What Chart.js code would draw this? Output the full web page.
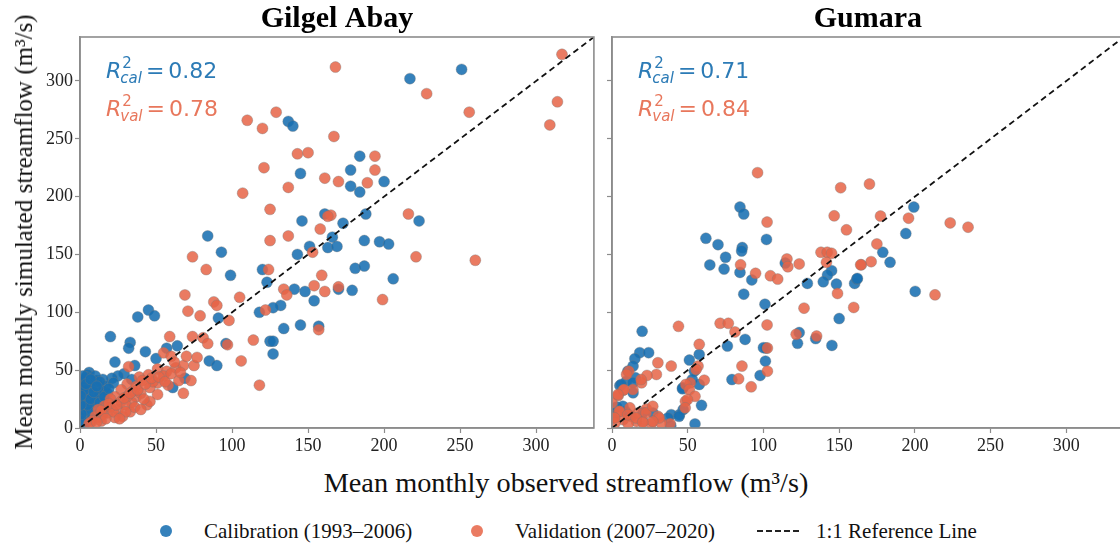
<!DOCTYPE html>
<html>
<head>
<meta charset="utf-8">
<script src="https://cdn.jsdelivr.net/npm/chart.js@4.4.1/dist/chart.umd.min.js"></script>
<style>
  html, body { margin: 0; padding: 0; background: #fff; }
  #fig {
    position: relative; width: 1120px; height: 548px; overflow: hidden;
    font-family: "Liberation Serif", "Times New Roman", serif; color: #111;
  }
  canvas { position: absolute; top: 0; }
  #gilgel { left: 0; }
  #gumara { left: 600px; }
  #xlabel { position: absolute; left: 0; width: 1132px; top: 466px; text-align: center; font-size: 28.3px; line-height: 34px; }
  #ylabel {
    position: absolute; left: 24px; top: 232px; font-size: 25px; line-height: 30px; white-space: nowrap;
    transform: translate(-50%, -50%) rotate(-90deg);
  }
  .leg { position: absolute; top: 519px; font-size: 21px; line-height: 24px; white-space: nowrap; }
  .dot { position: absolute; top: 525px; width: 12px; height: 12px; border-radius: 50%; }
  .dash { position: absolute; top: 530px; width: 42px; border-top: 2px dashed #222; }
</style>
</head>
<body>
<div id="fig">
  <canvas id="gilgel" width="600" height="460"></canvas>
  <canvas id="gumara" width="530" height="460"></canvas>
  <div id="ylabel">Mean monthly simulated streamflow (m³/s)</div>
  <div id="xlabel">Mean monthly observed streamflow (m³/s)</div>
  <div id="legend"></div>
</div>
<script>
const SERIF = '"Liberation Serif", "Times New Roman", serif';
const CAL_COLOR = 'rgba(25,112,178,0.88)';
const VAL_COLOR = 'rgba(230,100,70,0.85)';
const CAL_TEXT = '#2c7bb6';
const VAL_TEXT = '#e8775c';

const TICKS = [0, 50, 100, 150, 200, 250, 300];
const AXIS_MAX = 338;
const LEGEND_LABELS = ['Calibration (1993–2006)', 'Validation (2007–2020)', '1:1 Reference Line'];

// [observed, simulated] monthly means, m³/s
const gilgelCal = [
  [251,310],[217,302],[184,235],[178,223],[178,209],[200,213],[184,204],[173,177],[188,185],[223,179],
  [137,265],[140,261],[145,220],[161,185],[146,179],[84,166],[166,165],[93,152],[151,157],[143,150],
  [163,156],[169,157],[187,162],[197,161],[206,129],[181,138],[187,140],[99,132],[120,137],[123,126],
  [141,120],[148,118],[179,119],[170,120],[154,110],[132,106],[127,104],[118,100],[91,95],[145,89],
  [157,88],[134,86],[203,159],[38,96],[45,102],[49,97],[20,79],[33,74],[32,69],[43,66],
  [50,60],[57,69],[64,71],[23,57],[36,54],[85,58],[90,54],[125,75],[127,75],[127,64],[96,73],
  [6,48],[5,46],[29,47],[34,42],[25,45],[21,43],[15,42],[11,41],[7,35],[3,30],[2,25],[4,19],
  [1,16],[5,12],[9,27],[12,33],[17,36],[22,39],[14,25],[9,22],[0.5,36],[1,30],[1,9],[3.5,4],
  [69,43],[61,35],[2,40],[4,44],[8,38],[6,30],[3,22],[10,18],[6,14],[2,6],[8,8],[12,28],
  [15,32],[18,30],[5,20],[1,12],[10,45],[3,33],[7,25],[13,40],[0.5,20],[2,45],[4,38],[7,42],
  [9,31],[11,36],[13,22],[16,27],[19,34],[0.5,28]
];
const gilgelVal = [
  [317,323],[228,289],[256,273],[314,282],[309,262],[168,312],[167,252],[194,235],[194,223],[170,213],
  [189,212],[165,184],[216,185],[129,273],[110,266],[120,259],[143,237],[150,238],[121,225],[161,216],
  [107,203],[137,208],[125,189],[163,183],[158,172],[125,162],[137,166],[153,152],[83,137],[124,137],
  [159,132],[105,113],[134,120],[136,115],[154,123],[161,118],[170,122],[199,111],[88,109],[90,106],
  [122,102],[98,93],[74,148],[69,115],[71,101],[79,97],[59,79],[74,79],[81,78],[84,73],
  [55,65],[60,62],[32,53],[97,72],[106,58],[118,37],[114,76],[157,85],[260,145],[221,148],
  [63,52],[68,54],[75,54],[51,51],[57,49],[39,44],[45,46],[65,41],[73,41],[58,37],
  [68,30],[51,39],[46,35],[37,27],[44,20],[46,23],[51,29],[31,38],[27,33],[23,27],
  [20,25],[16,19],[12,16],[10,10],[13,9],[18,13],[25,16],[33,14],[28,10],[23,9],
  [34,22],[27,23],[31,27],[35,32],[37,36],[41,41],[8,6],[15,12],[20,18],[30,20],
  [40,30],[48,40],[55,45],[42,25],[36,18],[22,14],[14,6],[6,4],[14,15],[19,21],
  [24,20],[29,26],[33,30],[38,33],[43,38],[47,43],[52,44],[56,40],[60,47],[66,48],
  [62,57],[70,62],[77,61],[30,14],[40,16],[26,8],[17,8],[11,5]
];
const gumaraCal = [
  [84.5,191],[87,185],[62,164],[70,158.5],[102,163],[75,147.6],[86,156],[85.6,153],[64.6,141],[74,137.4],
  [84.5,134.5],[92.3,128],[87,115.7],[101,107],[114.4,142.6],[129,125],[150,94.6],[145,136],[142.3,132.2],[139.5,126.4],
  [148.2,124.4],[160.2,125],[161.7,128.7],[101.3,57.8],[101.7,69.1],[76.2,70.8],[87.9,76.6],[123.6,82.5],[122.5,73.2],[134.5,77.3],
  [145.2,71.4],[19.9,83.6],[18.3,65.1],[24.2,65.1],[15.1,59.9],[13.9,53.5],[15.5,43.4],[5.2,36.7],[9.6,40.5],[13.9,30.4],
  [57.6,63.6],[51.1,58.7],[54.4,49.1],[57.6,37.6],[46.7,34.7],[59.1,19.6],[47,15.9],[44.5,11.5],[54.8,3.5],[39.1,11.5],
  [36.9,8.7],[3.1,18.2],[9,14.2],[20.5,13.5],[27,13],[0,13],[10.5,49.1],[13.8,39.1],[6.1,37.6],[53,41.9],
  [46.5,33.9],[44.3,10.1],[38.8,2],[7.2,18.8],[0.7,10.1],[79.2,41.9],[97.8,45.4],[100,69.4],[199.3,191],[194,168.1],
  [178.8,151.9],[183.6,143.2],[162,129.3],[200.2,118.1]
];
const gumaraVal = [
  [96.1,220.7],[151,207.7],[102.4,178],[146.7,183.4],[154.8,171.3],[84.9,141.1],[94.8,133.7],[104.6,131.6],[109.4,128.7],[115.5,146.1],
  [116.1,139.4],[123.6,141.8],[126.8,103.6],[138,151.9],[142.1,151.9],[145,151],[141.6,143.2],[148.9,116.3],[164.6,141.1],[159.6,104.2],
  [71.4,90.5],[76.8,90.5],[81.2,83],[102.4,89.1],[102.6,69.1],[121.6,81],[135.1,79.5],[43.9,87.9],[30.3,56.4],[39.1,53.5],
  [11.1,49.1],[9.6,46.3],[29.3,46.3],[23.1,45.4],[19.5,39.1],[7.4,32.6],[4.1,28],[57.6,72.3],[56.8,53.5],[55.5,50.6],
  [51.7,39.1],[60.9,41.3],[48.7,37.6],[51.1,33.2],[54.8,27.4],[48.5,23.1],[38.4,3.7],[4.6,14.2],[1.5,8.9],[7.4,7.2],
  [12.9,10.1],[16.2,5.7],[22.7,16.5],[20.5,5.7],[26,3.7],[30.3,10.1],[32.5,4.3],[2,4.3],[10.7,3.7],[17.2,13],
  [11.8,17.4],[0,21.7],[19.2,41.9],[13.8,33.2],[7.9,33.2],[3.9,28.9],[49.8,24.6],[48.3,17.4],[31.2,8.7],[26.9,5.7],
  [22.5,13],[5,14.4],[10.5,11.5],[15.9,8.7],[20.3,4.9],[1.7,8.7],[26.9,18.8],[83.6,42.5],[91.9,35.6],[85.8,53.5],
  [102.6,49.1],[170,210.9],[177.3,183.2],[195.8,181.4],[223.3,177.3],[235.1,173.6],[174.9,159.1],[171.1,143.8],[164.2,141.1],[213.3,115.1]
];

const gilgelR2 = { cal: '0.82', val: '0.78' };
const gumaraR2 = { cal: '0.71', val: '0.84' };

const toXY = rows => rows.map(([x, y]) => ({ x, y }));

// closes the box: Chart.js only draws the left and bottom borders
const framePlugin = {
  id: 'frame',
  afterDatasetsDraw(chart) {
    const { ctx, chartArea: a } = chart;
    ctx.save();
    ctx.strokeStyle = '#8c8c8c';
    ctx.lineWidth = 1.6;
    ctx.strokeRect(a.left, a.top, a.right - a.left, a.bottom - a.top);
    ctx.restore();
  }
};

// R² labels in the upper-left corner of each panel
const r2Plugin = {
  id: 'r2',
  afterDraw(chart, args, opts) {
    if (!opts.cal) return;
    const { ctx, chartArea: a } = chart;
    const rows = [['cal', opts.cal, CAL_TEXT], ['val', opts.val, VAL_TEXT]];
    rows.forEach(([sub, val, color], i) => {
      const x = a.left + 26;
      const base = a.top + 40.5 + i * 38.5;
      ctx.save();
      ctx.fillStyle = color;
      ctx.textBaseline = 'alphabetic';
      ctx.textAlign = 'left';
      ctx.font = 'italic 22px "DejaVu Sans"';
      ctx.fillText('R', x, base);
      const wR = ctx.measureText('R').width;
      ctx.font = '15px "DejaVu Sans"';
      ctx.fillText('2', x + wR + 1, base - 10);
      ctx.font = 'italic 15px "DejaVu Sans"';
      ctx.fillText(sub, x + wR - 1, base + 5);
      const subEnd = x + wR - 1 + ctx.measureText(sub).width;
      ctx.font = '22px "DejaVu Sans"';
      ctx.fillText('=', subEnd + 4, base);
      const eqEnd = subEnd + 4 + ctx.measureText('=').width;
      ctx.fillText(val, eqEnd + 4, base);
      ctx.restore();
    });
  }
};

function axis(isX, showLabels, size) {
  return {
    type: 'linear',
    min: 0,
    max: AXIS_MAX,
    afterBuildTicks: s => { s.ticks = TICKS.map(v => ({ value: v })); },
    afterFit: s => { if (isX) s.height = size; else s.width = size; },
    ticks: { display: showLabels, color: '#222', font: { family: SERIF, size: 18 }, padding: 2 },
    grid: { display: true, drawOnChartArea: false, drawTicks: true, tickLength: 5, color: '#8c8c8c', tickWidth: 1.2 },
    border: { display: true, color: '#8c8c8c', width: 1.6 }
  };
}

function panel(id, title, cal, val, r2, yWidth, padRight) {
  new Chart(document.getElementById(id), {
    type: 'scatter',
    data: {
      datasets: [
        {
          label: LEGEND_LABELS[2],
          data: [{ x: 0, y: 0 }, { x: AXIS_MAX, y: AXIS_MAX }],
          showLine: true,
          pointRadius: 0,
          borderColor: '#111',
          borderWidth: 1.8,
          borderDash: [6, 4],
          order: 0,
          clip: 0
        },
        {
          label: LEGEND_LABELS[1],
          data: toXY(val),
          backgroundColor: VAL_COLOR,
          borderColor: 'rgba(120,120,120,0.6)',
          borderWidth: 0.6,
          pointRadius: 5.5,
          order: 1,
          clip: 0
        },
        {
          label: LEGEND_LABELS[0],
          data: toXY(cal),
          backgroundColor: CAL_COLOR,
          borderColor: 'rgba(120,120,120,0.6)',
          borderWidth: 0.6,
          pointRadius: 5.5,
          order: 2,
          clip: 0
        }
      ]
    },
    options: {
      responsive: false,
      animation: false,
      layout: { padding: { left: 0, right: padRight, top: 0, bottom: 0 } },
      scales: {
        x: axis(true, true, 32),
        y: axis(false, yWidth > 20, yWidth)
      },
      plugins: {
        legend: { display: false },
        tooltip: { enabled: false },
        title: {
          display: true,
          text: title,
          fullSize: false,
          color: '#000',
          font: { family: SERIF, size: 30, weight: 'bold', lineHeight: 1.2 },
          padding: { top: 1, bottom: 0 }
        },
        r2: r2
      }
    },
    plugins: [framePlugin, r2Plugin]
  });
}

panel('gilgel', 'Gilgel Abay', gilgelCal, gilgelVal, gilgelR2, 80, 4);
panel('gumara', 'Gumara', gumaraCal, gumaraVal, gumaraR2, 12, 2);

// figure legend under both panels
const legend = document.getElementById('legend');
legend.innerHTML =
  `<span class="dot" style="left:160px;background:${CAL_COLOR}"></span>` +
  `<span class="leg" style="left:204px">${LEGEND_LABELS[0]}</span>` +
  `<span class="dot" style="left:471px;background:${VAL_COLOR}"></span>` +
  `<span class="leg" style="left:515px">${LEGEND_LABELS[1]}</span>` +
  `<span class="dash" style="left:757px"></span>` +
  `<span class="leg" style="left:816px">${LEGEND_LABELS[2]}</span>`;
</script>
</body>
</html>
